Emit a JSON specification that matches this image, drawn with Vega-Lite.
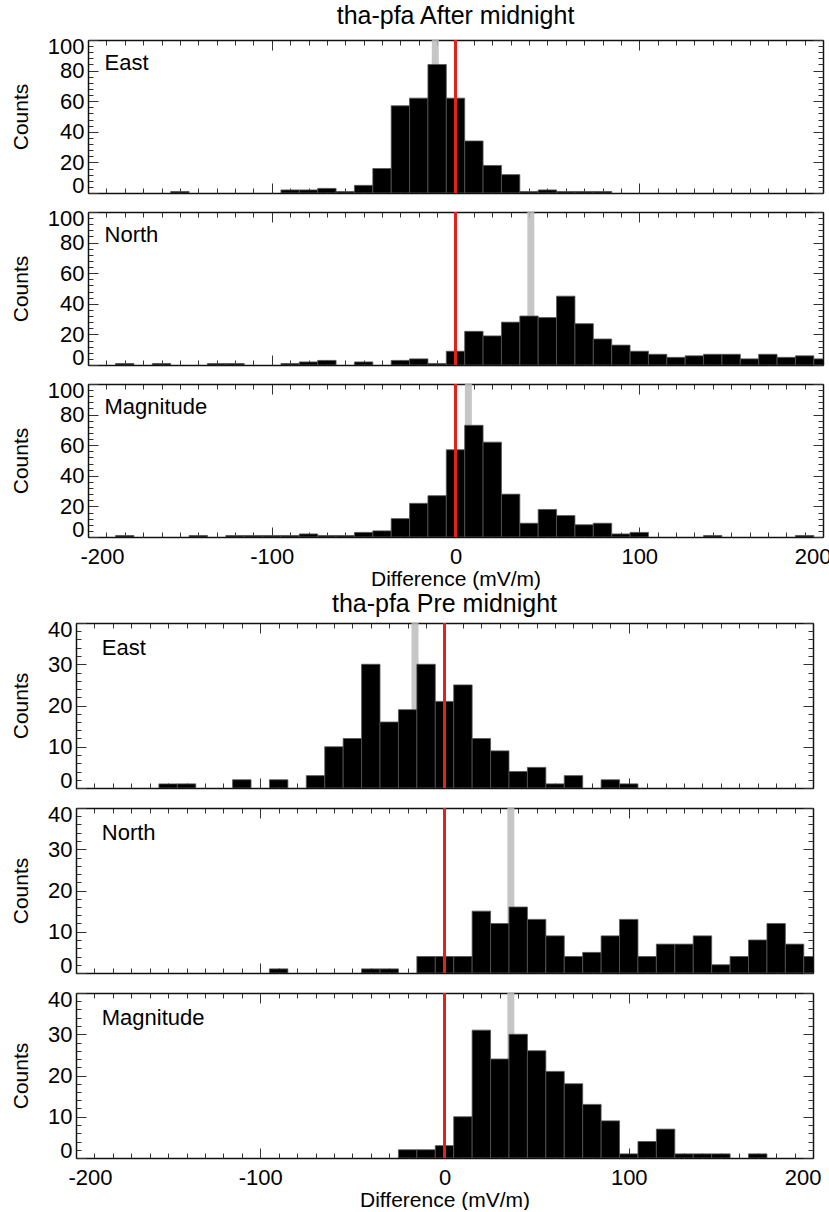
{
"$schema": "https://vega.github.io/schema/vega-lite/v6.json",
"padding": {"left": 10, "top": 4, "right": 0, "bottom": 0},
"background": "white",
"config": {
  "font": "Liberation Sans",
  "view": {"stroke": null},
  "axis": {"domain": true, "domainColor": "#111", "domainWidth": 1.5, "grid": false, "labelFont": "Liberation Sans", "labelFontSize": 22, "labelColor": "black", "titleFont": "Liberation Sans", "titleFontSize": 21, "titleFontWeight": "normal", "titleColor": "black", "tickColor": "#333", "tickWidth": 1},
  "title": {"font": "Liberation Sans", "fontSize": 25, "fontWeight": "normal", "color": "black"}
},
"datasets": {
  "aE": [{"lo":-155,"hi":-145,"n":1},{"lo":-95,"hi":-85,"n":2},{"lo":-85,"hi":-75,"n":2},{"lo":-75,"hi":-65,"n":3},{"lo":-65,"hi":-55,"n":1},{"lo":-55,"hi":-45,"n":5},{"lo":-45,"hi":-35,"n":16},{"lo":-35,"hi":-25,"n":57},{"lo":-25,"hi":-15,"n":62},{"lo":-15,"hi":-5,"n":84},{"lo":-5,"hi":5,"n":62},{"lo":5,"hi":15,"n":34},{"lo":15,"hi":25,"n":18},{"lo":25,"hi":35,"n":12},{"lo":35,"hi":45,"n":1},{"lo":45,"hi":55,"n":2},{"lo":55,"hi":65,"n":1},{"lo":65,"hi":75,"n":1},{"lo":75,"hi":85,"n":1}],
  "aN": [{"lo":-185,"hi":-175,"n":1},{"lo":-165,"hi":-155,"n":1},{"lo":-135,"hi":-125,"n":1},{"lo":-125,"hi":-115,"n":1},{"lo":-95,"hi":-85,"n":1},{"lo":-85,"hi":-75,"n":2},{"lo":-75,"hi":-65,"n":3},{"lo":-55,"hi":-45,"n":2},{"lo":-35,"hi":-25,"n":3},{"lo":-25,"hi":-15,"n":4},{"lo":-15,"hi":-5,"n":1},{"lo":-5,"hi":5,"n":9},{"lo":5,"hi":15,"n":22},{"lo":15,"hi":25,"n":19},{"lo":25,"hi":35,"n":28},{"lo":35,"hi":45,"n":32},{"lo":45,"hi":55,"n":31},{"lo":55,"hi":65,"n":45},{"lo":65,"hi":75,"n":27},{"lo":75,"hi":85,"n":17},{"lo":85,"hi":95,"n":13},{"lo":95,"hi":105,"n":9},{"lo":105,"hi":115,"n":7},{"lo":115,"hi":125,"n":5},{"lo":125,"hi":135,"n":6},{"lo":135,"hi":145,"n":7},{"lo":145,"hi":155,"n":7},{"lo":155,"hi":165,"n":4},{"lo":165,"hi":175,"n":7},{"lo":175,"hi":185,"n":5},{"lo":185,"hi":195,"n":6},{"lo":195,"hi":205,"n":4}],
  "aM": [{"lo":-185,"hi":-175,"n":1},{"lo":-145,"hi":-135,"n":1},{"lo":-125,"hi":-115,"n":1},{"lo":-115,"hi":-105,"n":1},{"lo":-105,"hi":-95,"n":1},{"lo":-95,"hi":-85,"n":1},{"lo":-85,"hi":-75,"n":2},{"lo":-75,"hi":-65,"n":1},{"lo":-65,"hi":-55,"n":1},{"lo":-55,"hi":-45,"n":3},{"lo":-45,"hi":-35,"n":4},{"lo":-35,"hi":-25,"n":12},{"lo":-25,"hi":-15,"n":22},{"lo":-15,"hi":-5,"n":27},{"lo":-5,"hi":5,"n":57},{"lo":5,"hi":15,"n":73},{"lo":15,"hi":25,"n":62},{"lo":25,"hi":35,"n":28},{"lo":35,"hi":45,"n":9},{"lo":45,"hi":55,"n":18},{"lo":55,"hi":65,"n":14},{"lo":65,"hi":75,"n":8},{"lo":75,"hi":85,"n":9},{"lo":85,"hi":95,"n":2},{"lo":95,"hi":105,"n":3},{"lo":135,"hi":145,"n":1},{"lo":185,"hi":195,"n":1}],
  "pE": [{"lo":-155,"hi":-145,"n":1},{"lo":-145,"hi":-135,"n":1},{"lo":-115,"hi":-105,"n":2},{"lo":-95,"hi":-85,"n":2},{"lo":-75,"hi":-65,"n":3},{"lo":-65,"hi":-55,"n":10},{"lo":-55,"hi":-45,"n":12},{"lo":-45,"hi":-35,"n":30},{"lo":-35,"hi":-25,"n":16},{"lo":-25,"hi":-15,"n":19},{"lo":-15,"hi":-5,"n":30},{"lo":-5,"hi":5,"n":21},{"lo":5,"hi":15,"n":25},{"lo":15,"hi":25,"n":12},{"lo":25,"hi":35,"n":9},{"lo":35,"hi":45,"n":4},{"lo":45,"hi":55,"n":5},{"lo":55,"hi":65,"n":1},{"lo":65,"hi":75,"n":3},{"lo":85,"hi":95,"n":2},{"lo":95,"hi":105,"n":1}],
  "pN": [{"lo":-95,"hi":-85,"n":1},{"lo":-45,"hi":-35,"n":1},{"lo":-35,"hi":-25,"n":1},{"lo":-15,"hi":-5,"n":4},{"lo":-5,"hi":5,"n":4},{"lo":5,"hi":15,"n":4},{"lo":15,"hi":25,"n":15},{"lo":25,"hi":35,"n":12},{"lo":35,"hi":45,"n":16},{"lo":45,"hi":55,"n":13},{"lo":55,"hi":65,"n":9},{"lo":65,"hi":75,"n":4},{"lo":75,"hi":85,"n":5},{"lo":85,"hi":95,"n":9},{"lo":95,"hi":105,"n":13},{"lo":105,"hi":115,"n":4},{"lo":115,"hi":125,"n":7},{"lo":125,"hi":135,"n":7},{"lo":135,"hi":145,"n":9},{"lo":145,"hi":155,"n":2},{"lo":155,"hi":165,"n":4},{"lo":165,"hi":175,"n":8},{"lo":175,"hi":185,"n":12},{"lo":185,"hi":195,"n":7},{"lo":195,"hi":205,"n":4}],
  "pM": [{"lo":-25,"hi":-15,"n":2},{"lo":-15,"hi":-5,"n":2},{"lo":-5,"hi":5,"n":3},{"lo":5,"hi":15,"n":10},{"lo":15,"hi":25,"n":31},{"lo":25,"hi":35,"n":24},{"lo":35,"hi":45,"n":30},{"lo":45,"hi":55,"n":26},{"lo":55,"hi":65,"n":21},{"lo":65,"hi":75,"n":18},{"lo":75,"hi":85,"n":13},{"lo":85,"hi":95,"n":9},{"lo":95,"hi":105,"n":1},{"lo":105,"hi":115,"n":4},{"lo":115,"hi":125,"n":7},{"lo":125,"hi":135,"n":1},{"lo":135,"hi":145,"n":1},{"lo":145,"hi":155,"n":1},{"lo":165,"hi":175,"n":1}]
},
"spacing": 3,
"vconcat": [
{"spacing": 10, "vconcat": [
 {"width": 747, "height": 153,
  "title": {"text": "tha-pfa After midnight", "frame": "group", "offset": 6, "dx": 6},
  "resolve": {"axis": {"x": "independent", "y": "independent"}},
  "layer": [
   {"data": {"values": [{"median": -11}]}, "mark": {"type": "rule", "color": "#bcbcbc", "strokeWidth": 7, "opacity": 0.85},
    "encoding": {"x": {"field": "median", "type": "quantitative", "scale": {"domain": [-200,200], "range": [12,747], "nice": false, "zero": false}, "axis": {"orient": "top", "values": [-200,-190,-180,-170,-160,-150,-140,-130,-120,-110,-100,-90,-80,-70,-60,-50,-40,-30,-20,-10,0,10,20,30,40,50,60,70,80,90,100,110,120,130,140,150,160,170,180,190,200], "tickSize": -5, "domain": false, "labels": false, "title": null}},
     "y": {"datum": 0, "type": "quantitative", "scale": {"domain": [0,100], "nice": false, "zero": false}, "axis": {"orient": "left", "offset": -12, "values": [0,4,8,12,16,20,24,28,32,36,40,44,48,52,56,60,64,68,72,76,80,84,88,92,96,100], "tickSize": -5, "domain": false, "labels": false, "title": null}},
     "y2": {"datum": 100}}},
   {"data": {"name": "aE"}, "mark": {"type": "bar", "color": "black", "stroke": "#555", "strokeWidth": 0.8, "clip": true},
    "encoding": {"x": {"field": "lo", "type": "quantitative", "scale": {"domain": [-200,200], "range": [12,747], "nice": false, "zero": false}, "axis": {"orient": "bottom", "values": [-200,-100,0,100,200], "tickSize": -10, "labels": false, "title": null}},
     "x2": {"field": "hi"},
     "y": {"field": "n", "type": "quantitative", "scale": {"domain": [0,100], "nice": false, "zero": false}, "axis": {"orient": "left", "offset": -12, "values": [0,20,40,60,80,100], "tickSize": -10, "labelPadding": 14, "labelFlush": true, "labelFlushOffset": 4, "title": "Counts", "titlePadding": 16}},
     "y2": {"datum": 0}}},
   {"data": {"values": [{}]}, "mark": {"type": "rule", "color": "#e3231b", "strokeWidth": 3},
    "encoding": {"x": {"datum": 0, "type": "quantitative", "scale": {"domain": [-200,200], "range": [12,747], "nice": false, "zero": false}, "axis": {"orient": "top", "values": [-200,-100,0,100,200], "tickSize": -10, "labels": false, "title": null}},
     "y": {"datum": 0, "type": "quantitative", "scale": {"domain": [0,100], "nice": false, "zero": false}, "axis": {"orient": "right", "values": [0,20,40,60,80,100], "tickSize": -10, "labels": false, "title": null}},
     "y2": {"datum": 100}}},
   {"data": {"values": [{"label": "East"}]}, "mark": {"type": "text", "align": "left", "baseline": "middle", "fontSize": 22, "font": "Liberation Sans", "color": "black"},
    "encoding": {"x": {"datum": -191, "type": "quantitative", "scale": {"domain": [-200,200], "range": [12,747], "nice": false, "zero": false}, "axis": {"orient": "bottom", "values": [-200,-190,-180,-170,-160,-150,-140,-130,-120,-110,-100,-90,-80,-70,-60,-50,-40,-30,-20,-10,0,10,20,30,40,50,60,70,80,90,100,110,120,130,140,150,160,170,180,190,200], "tickSize": -5, "domain": false, "labels": false, "title": null}},
     "y": {"datum": 85, "type": "quantitative", "scale": {"domain": [0,100], "nice": false, "zero": false}, "axis": {"orient": "right", "values": [0,4,8,12,16,20,24,28,32,36,40,44,48,52,56,60,64,68,72,76,80,84,88,92,96,100], "tickSize": -5, "domain": false, "labels": false, "title": null}},
     "text": {"field": "label"}}}
  ]},
 {"width": 747, "height": 153,
  "resolve": {"axis": {"x": "independent", "y": "independent"}},
  "layer": [
   {"data": {"values": [{"median": 41}]}, "mark": {"type": "rule", "color": "#bcbcbc", "strokeWidth": 7, "opacity": 0.85},
    "encoding": {"x": {"field": "median", "type": "quantitative", "scale": {"domain": [-200,200], "range": [12,747], "nice": false, "zero": false}, "axis": {"orient": "top", "values": [-200,-190,-180,-170,-160,-150,-140,-130,-120,-110,-100,-90,-80,-70,-60,-50,-40,-30,-20,-10,0,10,20,30,40,50,60,70,80,90,100,110,120,130,140,150,160,170,180,190,200], "tickSize": -5, "domain": false, "labels": false, "title": null}},
     "y": {"datum": 0, "type": "quantitative", "scale": {"domain": [0,100], "nice": false, "zero": false}, "axis": {"orient": "left", "offset": -12, "values": [0,4,8,12,16,20,24,28,32,36,40,44,48,52,56,60,64,68,72,76,80,84,88,92,96,100], "tickSize": -5, "domain": false, "labels": false, "title": null}},
     "y2": {"datum": 100}}},
   {"data": {"name": "aN"}, "mark": {"type": "bar", "color": "black", "stroke": "#555", "strokeWidth": 0.8, "clip": true},
    "encoding": {"x": {"field": "lo", "type": "quantitative", "scale": {"domain": [-200,200], "range": [12,747], "nice": false, "zero": false}, "axis": {"orient": "bottom", "values": [-200,-100,0,100,200], "tickSize": -10, "labels": false, "title": null}},
     "x2": {"field": "hi"},
     "y": {"field": "n", "type": "quantitative", "scale": {"domain": [0,100], "nice": false, "zero": false}, "axis": {"orient": "left", "offset": -12, "values": [0,20,40,60,80,100], "tickSize": -10, "labelPadding": 14, "labelFlush": true, "labelFlushOffset": 4, "title": "Counts", "titlePadding": 16}},
     "y2": {"datum": 0}}},
   {"data": {"values": [{}]}, "mark": {"type": "rule", "color": "#e3231b", "strokeWidth": 3},
    "encoding": {"x": {"datum": 0, "type": "quantitative", "scale": {"domain": [-200,200], "range": [12,747], "nice": false, "zero": false}, "axis": {"orient": "top", "values": [-200,-100,0,100,200], "tickSize": -10, "labels": false, "title": null}},
     "y": {"datum": 0, "type": "quantitative", "scale": {"domain": [0,100], "nice": false, "zero": false}, "axis": {"orient": "right", "values": [0,20,40,60,80,100], "tickSize": -10, "labels": false, "title": null}},
     "y2": {"datum": 100}}},
   {"data": {"values": [{"label": "North"}]}, "mark": {"type": "text", "align": "left", "baseline": "middle", "fontSize": 22, "font": "Liberation Sans", "color": "black"},
    "encoding": {"x": {"datum": -191, "type": "quantitative", "scale": {"domain": [-200,200], "range": [12,747], "nice": false, "zero": false}, "axis": {"orient": "bottom", "values": [-200,-190,-180,-170,-160,-150,-140,-130,-120,-110,-100,-90,-80,-70,-60,-50,-40,-30,-20,-10,0,10,20,30,40,50,60,70,80,90,100,110,120,130,140,150,160,170,180,190,200], "tickSize": -5, "domain": false, "labels": false, "title": null}},
     "y": {"datum": 85, "type": "quantitative", "scale": {"domain": [0,100], "nice": false, "zero": false}, "axis": {"orient": "right", "values": [0,4,8,12,16,20,24,28,32,36,40,44,48,52,56,60,64,68,72,76,80,84,88,92,96,100], "tickSize": -5, "domain": false, "labels": false, "title": null}},
     "text": {"field": "label"}}}
  ]},
 {"width": 747, "height": 153,
  "resolve": {"axis": {"x": "independent", "y": "independent"}},
  "layer": [
   {"data": {"values": [{"median": 7}]}, "mark": {"type": "rule", "color": "#bcbcbc", "strokeWidth": 7, "opacity": 0.85},
    "encoding": {"x": {"field": "median", "type": "quantitative", "scale": {"domain": [-200,200], "range": [12,747], "nice": false, "zero": false}, "axis": {"orient": "top", "values": [-200,-190,-180,-170,-160,-150,-140,-130,-120,-110,-100,-90,-80,-70,-60,-50,-40,-30,-20,-10,0,10,20,30,40,50,60,70,80,90,100,110,120,130,140,150,160,170,180,190,200], "tickSize": -5, "domain": false, "labels": false, "title": null}},
     "y": {"datum": 0, "type": "quantitative", "scale": {"domain": [0,100], "nice": false, "zero": false}, "axis": {"orient": "left", "offset": -12, "values": [0,4,8,12,16,20,24,28,32,36,40,44,48,52,56,60,64,68,72,76,80,84,88,92,96,100], "tickSize": -5, "domain": false, "labels": false, "title": null}},
     "y2": {"datum": 100}}},
   {"data": {"name": "aM"}, "mark": {"type": "bar", "color": "black", "stroke": "#555", "strokeWidth": 0.8, "clip": true},
    "encoding": {"x": {"field": "lo", "type": "quantitative", "scale": {"domain": [-200,200], "range": [12,747], "nice": false, "zero": false}, "axis": {"orient": "bottom", "values": [-200,-100,0,100,200], "tickSize": -10, "labelPadding": 19, "labelFlush": true, "labelFlushOffset": 8, "labelExpr": "toString(datum.value)", "title": "Difference (mV/m)", "titlePadding": 1}},
     "x2": {"field": "hi"},
     "y": {"field": "n", "type": "quantitative", "scale": {"domain": [0,100], "nice": false, "zero": false}, "axis": {"orient": "left", "offset": -12, "values": [0,20,40,60,80,100], "tickSize": -10, "labelPadding": 14, "labelFlush": true, "labelFlushOffset": 4, "title": "Counts", "titlePadding": 16}},
     "y2": {"datum": 0}}},
   {"data": {"values": [{}]}, "mark": {"type": "rule", "color": "#e3231b", "strokeWidth": 3},
    "encoding": {"x": {"datum": 0, "type": "quantitative", "scale": {"domain": [-200,200], "range": [12,747], "nice": false, "zero": false}, "axis": {"orient": "top", "values": [-200,-100,0,100,200], "tickSize": -10, "labels": false, "title": null}},
     "y": {"datum": 0, "type": "quantitative", "scale": {"domain": [0,100], "nice": false, "zero": false}, "axis": {"orient": "right", "values": [0,20,40,60,80,100], "tickSize": -10, "labels": false, "title": null}},
     "y2": {"datum": 100}}},
   {"data": {"values": [{"label": "Magnitude"}]}, "mark": {"type": "text", "align": "left", "baseline": "middle", "fontSize": 22, "font": "Liberation Sans", "color": "black"},
    "encoding": {"x": {"datum": -191, "type": "quantitative", "scale": {"domain": [-200,200], "range": [12,747], "nice": false, "zero": false}, "axis": {"orient": "bottom", "values": [-200,-190,-180,-170,-160,-150,-140,-130,-120,-110,-100,-90,-80,-70,-60,-50,-40,-30,-20,-10,0,10,20,30,40,50,60,70,80,90,100,110,120,130,140,150,160,170,180,190,200], "tickSize": -5, "domain": false, "labels": false, "title": null}},
     "y": {"datum": 85, "type": "quantitative", "scale": {"domain": [0,100], "nice": false, "zero": false}, "axis": {"orient": "right", "values": [0,4,8,12,16,20,24,28,32,36,40,44,48,52,56,60,64,68,72,76,80,84,88,92,96,100], "tickSize": -5, "domain": false, "labels": false, "title": null}},
     "text": {"field": "label"}}}
  ]}
]},
{"spacing": 11, "vconcat": [
 {"width": 737, "height": 165,
  "title": {"text": "tha-pfa Pre midnight", "frame": "group", "offset": 1},
  "resolve": {"axis": {"x": "independent", "y": "independent"}},
  "layer": [
   {"data": {"values": [{"median": -16}]}, "mark": {"type": "rule", "color": "#bcbcbc", "strokeWidth": 7, "opacity": 0.85},
    "encoding": {"x": {"field": "median", "type": "quantitative", "scale": {"domain": [-200,200], "nice": false, "zero": false}, "axis": {"orient": "top", "values": [-200,-190,-180,-170,-160,-150,-140,-130,-120,-110,-100,-90,-80,-70,-60,-50,-40,-30,-20,-10,0,10,20,30,40,50,60,70,80,90,100,110,120,130,140,150,160,170,180,190,200], "tickSize": -5, "domain": false, "labels": false, "title": null}},
     "y": {"datum": 0, "type": "quantitative", "scale": {"domain": [0,40], "nice": false, "zero": false}, "axis": {"orient": "left", "values": [0,2,4,6,8,10,12,14,16,18,20,22,24,26,28,30,32,34,36,38,40], "tickSize": -5, "domain": false, "labels": false, "title": null}},
     "y2": {"datum": 40}}},
   {"data": {"name": "pE"}, "mark": {"type": "bar", "color": "black", "stroke": "#555", "strokeWidth": 0.8, "clip": true},
    "encoding": {"x": {"field": "lo", "type": "quantitative", "scale": {"domain": [-200,200], "nice": false, "zero": false}, "axis": {"orient": "bottom", "values": [-200,-100,0,100,200], "tickSize": -10, "labels": false, "title": null}},
     "x2": {"field": "hi"},
     "y": {"field": "n", "type": "quantitative", "scale": {"domain": [0,40], "nice": false, "zero": false}, "axis": {"orient": "left", "values": [0,10,20,30,40], "tickSize": -10, "labelPadding": 14, "labelFlush": true, "labelFlushOffset": 4, "title": "Counts", "titlePadding": 16}},
     "y2": {"datum": 0}}},
   {"data": {"values": [{}]}, "mark": {"type": "rule", "color": "#e3231b", "strokeWidth": 3},
    "encoding": {"x": {"datum": 0, "type": "quantitative", "scale": {"domain": [-200,200], "nice": false, "zero": false}, "axis": {"orient": "top", "values": [-200,-100,0,100,200], "tickSize": -10, "labels": false, "title": null}},
     "y": {"datum": 0, "type": "quantitative", "scale": {"domain": [0,40], "nice": false, "zero": false}, "axis": {"orient": "right", "values": [0,10,20,30,40], "tickSize": -10, "labels": false, "title": null}},
     "y2": {"datum": 40}}},
   {"data": {"values": [{"label": "East"}]}, "mark": {"type": "text", "align": "left", "baseline": "middle", "fontSize": 22, "font": "Liberation Sans", "color": "black"},
    "encoding": {"x": {"datum": -186, "type": "quantitative", "scale": {"domain": [-200,200], "nice": false, "zero": false}, "axis": {"orient": "bottom", "values": [-200,-190,-180,-170,-160,-150,-140,-130,-120,-110,-100,-90,-80,-70,-60,-50,-40,-30,-20,-10,0,10,20,30,40,50,60,70,80,90,100,110,120,130,140,150,160,170,180,190,200], "tickSize": -5, "domain": false, "labels": false, "title": null}},
     "y": {"datum": 34, "type": "quantitative", "scale": {"domain": [0,40], "nice": false, "zero": false}, "axis": {"orient": "right", "values": [0,2,4,6,8,10,12,14,16,18,20,22,24,26,28,30,32,34,36,38,40], "tickSize": -5, "domain": false, "labels": false, "title": null}},
     "text": {"field": "label"}}}
  ]},
 {"width": 737, "height": 165,
  "resolve": {"axis": {"x": "independent", "y": "independent"}},
  "layer": [
   {"data": {"values": [{"median": 36}]}, "mark": {"type": "rule", "color": "#bcbcbc", "strokeWidth": 7, "opacity": 0.85},
    "encoding": {"x": {"field": "median", "type": "quantitative", "scale": {"domain": [-200,200], "nice": false, "zero": false}, "axis": {"orient": "top", "values": [-200,-190,-180,-170,-160,-150,-140,-130,-120,-110,-100,-90,-80,-70,-60,-50,-40,-30,-20,-10,0,10,20,30,40,50,60,70,80,90,100,110,120,130,140,150,160,170,180,190,200], "tickSize": -5, "domain": false, "labels": false, "title": null}},
     "y": {"datum": 0, "type": "quantitative", "scale": {"domain": [0,40], "nice": false, "zero": false}, "axis": {"orient": "left", "values": [0,2,4,6,8,10,12,14,16,18,20,22,24,26,28,30,32,34,36,38,40], "tickSize": -5, "domain": false, "labels": false, "title": null}},
     "y2": {"datum": 40}}},
   {"data": {"name": "pN"}, "mark": {"type": "bar", "color": "black", "stroke": "#555", "strokeWidth": 0.8, "clip": true},
    "encoding": {"x": {"field": "lo", "type": "quantitative", "scale": {"domain": [-200,200], "nice": false, "zero": false}, "axis": {"orient": "bottom", "values": [-200,-100,0,100,200], "tickSize": -10, "labels": false, "title": null}},
     "x2": {"field": "hi"},
     "y": {"field": "n", "type": "quantitative", "scale": {"domain": [0,40], "nice": false, "zero": false}, "axis": {"orient": "left", "values": [0,10,20,30,40], "tickSize": -10, "labelPadding": 14, "labelFlush": true, "labelFlushOffset": 4, "title": "Counts", "titlePadding": 16}},
     "y2": {"datum": 0}}},
   {"data": {"values": [{}]}, "mark": {"type": "rule", "color": "#e3231b", "strokeWidth": 3},
    "encoding": {"x": {"datum": 0, "type": "quantitative", "scale": {"domain": [-200,200], "nice": false, "zero": false}, "axis": {"orient": "top", "values": [-200,-100,0,100,200], "tickSize": -10, "labels": false, "title": null}},
     "y": {"datum": 0, "type": "quantitative", "scale": {"domain": [0,40], "nice": false, "zero": false}, "axis": {"orient": "right", "values": [0,10,20,30,40], "tickSize": -10, "labels": false, "title": null}},
     "y2": {"datum": 40}}},
   {"data": {"values": [{"label": "North"}]}, "mark": {"type": "text", "align": "left", "baseline": "middle", "fontSize": 22, "font": "Liberation Sans", "color": "black"},
    "encoding": {"x": {"datum": -186, "type": "quantitative", "scale": {"domain": [-200,200], "nice": false, "zero": false}, "axis": {"orient": "bottom", "values": [-200,-190,-180,-170,-160,-150,-140,-130,-120,-110,-100,-90,-80,-70,-60,-50,-40,-30,-20,-10,0,10,20,30,40,50,60,70,80,90,100,110,120,130,140,150,160,170,180,190,200], "tickSize": -5, "domain": false, "labels": false, "title": null}},
     "y": {"datum": 34, "type": "quantitative", "scale": {"domain": [0,40], "nice": false, "zero": false}, "axis": {"orient": "right", "values": [0,2,4,6,8,10,12,14,16,18,20,22,24,26,28,30,32,34,36,38,40], "tickSize": -5, "domain": false, "labels": false, "title": null}},
     "text": {"field": "label"}}}
  ]},
 {"width": 737, "height": 165,
  "resolve": {"axis": {"x": "independent", "y": "independent"}},
  "layer": [
   {"data": {"values": [{"median": 36}]}, "mark": {"type": "rule", "color": "#bcbcbc", "strokeWidth": 7, "opacity": 0.85},
    "encoding": {"x": {"field": "median", "type": "quantitative", "scale": {"domain": [-200,200], "nice": false, "zero": false}, "axis": {"orient": "top", "values": [-200,-190,-180,-170,-160,-150,-140,-130,-120,-110,-100,-90,-80,-70,-60,-50,-40,-30,-20,-10,0,10,20,30,40,50,60,70,80,90,100,110,120,130,140,150,160,170,180,190,200], "tickSize": -5, "domain": false, "labels": false, "title": null}},
     "y": {"datum": 0, "type": "quantitative", "scale": {"domain": [0,40], "nice": false, "zero": false}, "axis": {"orient": "left", "values": [0,2,4,6,8,10,12,14,16,18,20,22,24,26,28,30,32,34,36,38,40], "tickSize": -5, "domain": false, "labels": false, "title": null}},
     "y2": {"datum": 40}}},
   {"data": {"name": "pM"}, "mark": {"type": "bar", "color": "black", "stroke": "#555", "strokeWidth": 0.8, "clip": true},
    "encoding": {"x": {"field": "lo", "type": "quantitative", "scale": {"domain": [-200,200], "nice": false, "zero": false}, "axis": {"orient": "bottom", "values": [-200,-100,0,100,200], "tickSize": -10, "labelPadding": 19, "labelFlush": true, "labelFlushOffset": 8, "labelExpr": "toString(datum.value)", "title": "Difference (mV/m)", "titlePadding": 1}},
     "x2": {"field": "hi"},
     "y": {"field": "n", "type": "quantitative", "scale": {"domain": [0,40], "nice": false, "zero": false}, "axis": {"orient": "left", "values": [0,10,20,30,40], "tickSize": -10, "labelPadding": 14, "labelFlush": true, "labelFlushOffset": 4, "title": "Counts", "titlePadding": 16}},
     "y2": {"datum": 0}}},
   {"data": {"values": [{}]}, "mark": {"type": "rule", "color": "#e3231b", "strokeWidth": 3},
    "encoding": {"x": {"datum": 0, "type": "quantitative", "scale": {"domain": [-200,200], "nice": false, "zero": false}, "axis": {"orient": "top", "values": [-200,-100,0,100,200], "tickSize": -10, "labels": false, "title": null}},
     "y": {"datum": 0, "type": "quantitative", "scale": {"domain": [0,40], "nice": false, "zero": false}, "axis": {"orient": "right", "values": [0,10,20,30,40], "tickSize": -10, "labels": false, "title": null}},
     "y2": {"datum": 40}}},
   {"data": {"values": [{"label": "Magnitude"}]}, "mark": {"type": "text", "align": "left", "baseline": "middle", "fontSize": 22, "font": "Liberation Sans", "color": "black"},
    "encoding": {"x": {"datum": -186, "type": "quantitative", "scale": {"domain": [-200,200], "nice": false, "zero": false}, "axis": {"orient": "bottom", "values": [-200,-190,-180,-170,-160,-150,-140,-130,-120,-110,-100,-90,-80,-70,-60,-50,-40,-30,-20,-10,0,10,20,30,40,50,60,70,80,90,100,110,120,130,140,150,160,170,180,190,200], "tickSize": -5, "domain": false, "labels": false, "title": null}},
     "y": {"datum": 34, "type": "quantitative", "scale": {"domain": [0,40], "nice": false, "zero": false}, "axis": {"orient": "right", "values": [0,2,4,6,8,10,12,14,16,18,20,22,24,26,28,30,32,34,36,38,40], "tickSize": -5, "domain": false, "labels": false, "title": null}},
     "text": {"field": "label"}}}
  ]}
]}
]
}
